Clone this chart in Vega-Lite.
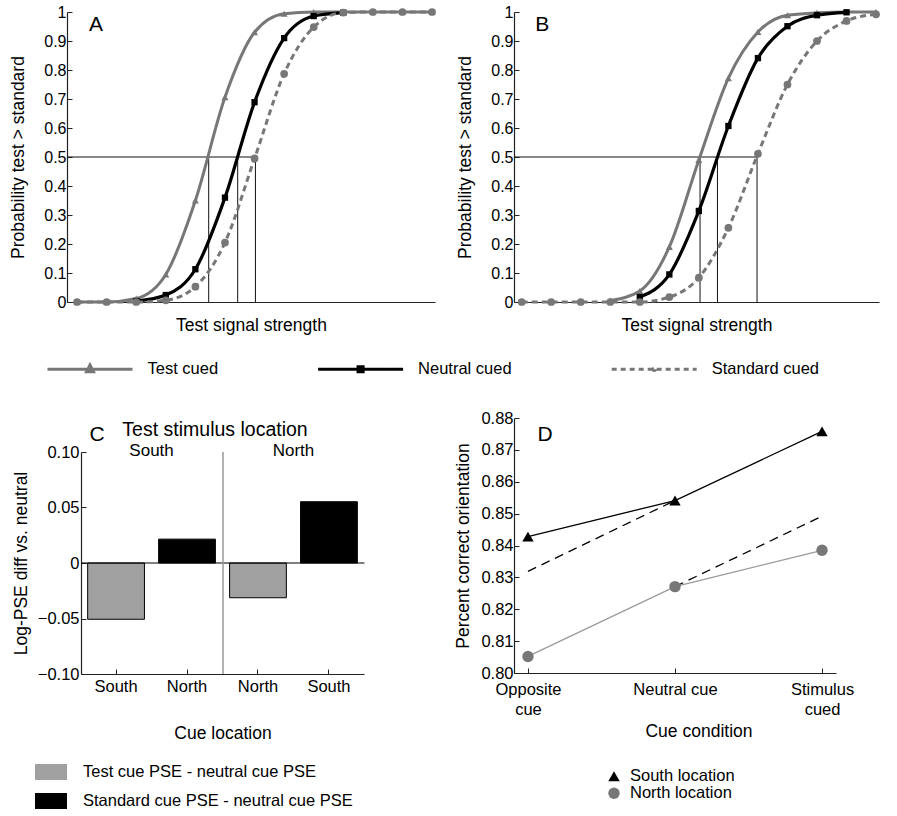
{
  "$schema": "https://vega.github.io/schema/vega-lite/v6.json",
  "padding": {"left": 9, "top": 4, "right": 5, "bottom": 0},
  "config": {
    "view": {"stroke": null},
    "font": "Liberation Sans",
    "axis": {"grid": false, "domainColor": "#222", "domainWidth": 1.2, "tickColor": "#222", "tickWidth": 1, "labelColor": "#000", "labelFontSize": 16, "titleColor": "#000", "titleFontSize": 17.5, "titleFontWeight": "normal", "labelFont": "Liberation Sans", "titleFont": "Liberation Sans", "labelOverlap": false},
    "legend": {"labelColor": "#000", "labelFontSize": 16.5, "labelFont": "Liberation Sans", "labelLimit": 400},
    "text": {"font": "Liberation Sans", "color": "#000"}
  },
  "columns": 2,
  "align": "each",
  "bounds": "flush",
  "spacing": {"row": 116, "column": 79},
  "resolve": {"scale": {"color": "independent", "shape": "independent", "strokeDash": "independent"}, "legend": {"color": "independent", "shape": "independent", "strokeDash": "independent"}},
  "concat": [
    {
      "width": 368, "height": 290,
      "data": {"values": [
        {"series": "Test cued", "i": 0, "p": 0}, {"series": "Test cued", "i": 1, "p": 0}, {"series": "Test cued", "i": 2, "p": 0.012}, {"series": "Test cued", "i": 3, "p": 0.095}, {"series": "Test cued", "i": 4, "p": 0.35}, {"series": "Test cued", "i": 5, "p": 0.706}, {"series": "Test cued", "i": 6, "p": 0.93}, {"series": "Test cued", "i": 7, "p": 0.994}, {"series": "Test cued", "i": 8, "p": 1}, {"series": "Test cued", "i": 9, "p": 1}, {"series": "Test cued", "i": 10, "p": 1}, {"series": "Test cued", "i": 11, "p": 1}, {"series": "Test cued", "i": 12, "p": 1},
        {"series": "Neutral cued", "i": 2, "p": 0.003}, {"series": "Neutral cued", "i": 3, "p": 0.024}, {"series": "Neutral cued", "i": 4, "p": 0.113}, {"series": "Neutral cued", "i": 5, "p": 0.36}, {"series": "Neutral cued", "i": 6, "p": 0.689}, {"series": "Neutral cued", "i": 7, "p": 0.91}, {"series": "Neutral cued", "i": 8, "p": 0.986}, {"series": "Neutral cued", "i": 9, "p": 0.998},
        {"series": "Standard cued", "i": 0, "p": 0}, {"series": "Standard cued", "i": 1, "p": 0}, {"series": "Standard cued", "i": 2, "p": 0}, {"series": "Standard cued", "i": 3, "p": 0.006}, {"series": "Standard cued", "i": 4, "p": 0.053}, {"series": "Standard cued", "i": 5, "p": 0.205}, {"series": "Standard cued", "i": 6, "p": 0.495}, {"series": "Standard cued", "i": 7, "p": 0.787}, {"series": "Standard cued", "i": 8, "p": 0.948}, {"series": "Standard cued", "i": 9, "p": 0.998}, {"series": "Standard cued", "i": 10, "p": 1}, {"series": "Standard cued", "i": 11, "p": 1}, {"series": "Standard cued", "i": 12, "p": 1}
      ]},
      "layer": [
        {"data": {"values": [{"series": "Test cued", "i": 4.45, "lo": 0, "hi": 0.5}, {"series": "Neutral cued", "i": 5.43, "lo": 0, "hi": 0.5}, {"series": "Standard cued", "i": 6.03, "lo": 0, "hi": 0.5}]},
         "mark": {"type": "rule", "color": "#111111", "strokeWidth": 1},
         "encoding": {
           "x": {"field": "i", "type": "quantitative", "scale": {"domain": [-0.34, 12.1], "nice": false, "zero": false}, "axis": {"title": "Test signal strength", "labels": false, "ticks": false, "titlePadding": 14}},
           "y": {"field": "lo", "type": "quantitative", "scale": {"domain": [0, 1], "nice": false}, "axis": {"title": "Probability test > standard", "tickCount": 10, "format": "~g", "labelOverlap": false, "tickSize": -5, "labelPadding": 6, "titlePadding": 16}},
           "y2": {"field": "hi"}
         }},
        {"data": {"values": [{"x0": -0.34, "x1": 6.03, "p": 0.5}]},
         "mark": {"type": "rule", "color": "#111111", "strokeWidth": 1},
         "encoding": {"x": {"field": "x0", "type": "quantitative"}, "x2": {"field": "x1"}, "y": {"field": "p", "type": "quantitative"}}},
        {"transform": [{"filter": "datum.series == 'Test cued'"}],
         "mark": {"type": "line", "interpolate": "monotone", "strokeWidth": 3, "color": "#777777"},
         "encoding": {"x": {"field": "i", "type": "quantitative"}, "y": {"field": "p", "type": "quantitative"}}},
        {"transform": [{"filter": "datum.series == 'Neutral cued'"}],
         "mark": {"type": "line", "interpolate": "monotone", "strokeWidth": 3.2, "color": "#000000"},
         "encoding": {"x": {"field": "i", "type": "quantitative"}, "y": {"field": "p", "type": "quantitative"}}},
        {"transform": [{"filter": "datum.series == 'Standard cued'"}],
         "mark": {"type": "line", "interpolate": "monotone", "strokeWidth": 3, "color": "#777777", "strokeDash": [6, 4]},
         "encoding": {"x": {"field": "i", "type": "quantitative"}, "y": {"field": "p", "type": "quantitative"}}},
        {"transform": [{"filter": "datum.series == 'Test cued'"}],
         "mark": {"type": "point", "filled": true, "shape": "triangle-up", "size": 50, "color": "#777777", "opacity": 1},
         "encoding": {"x": {"field": "i", "type": "quantitative"}, "y": {"field": "p", "type": "quantitative"}}},
        {"transform": [{"filter": "datum.series == 'Neutral cued'"}],
         "mark": {"type": "point", "filled": true, "shape": "square", "size": 40, "color": "#000000", "opacity": 1},
         "encoding": {"x": {"field": "i", "type": "quantitative"}, "y": {"field": "p", "type": "quantitative"}}},
        {"transform": [{"filter": "datum.series == 'Standard cued'"}],
         "mark": {"type": "point", "filled": true, "shape": "circle", "size": 60, "color": "#777777", "opacity": 1},
         "encoding": {"x": {"field": "i", "type": "quantitative"}, "y": {"field": "p", "type": "quantitative"}}},
        {"data": {"values": [{"label": "A", "i": 0.642, "p": 0.9355}]},
         "mark": {"type": "text", "fontSize": 21, "baseline": "alphabetic", "align": "center"},
         "encoding": {"x": {"field": "i", "type": "quantitative"}, "y": {"field": "p", "type": "quantitative"}, "text": {"field": "label", "type": "nominal"}}},
        {"data": {"values": [{"series": "Test cued"}, {"series": "Neutral cued"}, {"series": "Standard cued"}]},
         "mark": {"type": "point", "opacity": 0, "filled": false},
         "encoding": {
           "color": {"field": "series", "type": "nominal", "scale": {"domain": ["Test cued", "Neutral cued", "Standard cued"], "range": ["#777777", "#000000", "#777777"]},
             "legend": {"orient": "none", "legendX": -21, "legendY": 313, "direction": "horizontal", "columns": 3, "title": null, "symbolSize": 7225, "symbolStrokeWidth": 3, "symbolOpacity": 1, "labelOffset": 13.5, "columnPadding": 92.6, "labelFontSize": 16.5}},
           "shape": {"field": "series", "type": "nominal", "scale": {"domain": ["Test cued", "Neutral cued", "Standard cued"], "range": [
             "M-1,0H1M-0.082,0.06L0,-0.1L0.082,0.06Z",
             "M-1,0H1M-0.06,-0.06H0.06V0.06H-0.06Z",
             "M0.03,0A0.03,0.03,0,1,1,-0.03,0A0.03,0.03,0,1,1,0.03,0M-1,0H1"
           ]}},
           "strokeDash": {"field": "series", "type": "nominal", "scale": {"domain": ["Test cued", "Neutral cued", "Standard cued"], "range": [[1, 0], [1, 0], [5, 4]]}}
         }}
      ]
    },
    {
      "width": 365, "height": 290,
      "data": {"values": [
        {"series": "Test cued", "i": 3, "p": 0.005}, {"series": "Test cued", "i": 4, "p": 0.038}, {"series": "Test cued", "i": 5, "p": 0.19}, {"series": "Test cued", "i": 6, "p": 0.49}, {"series": "Test cued", "i": 7, "p": 0.772}, {"series": "Test cued", "i": 8, "p": 0.931}, {"series": "Test cued", "i": 9, "p": 0.989}, {"series": "Test cued", "i": 10, "p": 0.997}, {"series": "Test cued", "i": 11, "p": 1}, {"series": "Test cued", "i": 12, "p": 1},
        {"series": "Neutral cued", "i": 4, "p": 0.017}, {"series": "Neutral cued", "i": 5, "p": 0.095}, {"series": "Neutral cued", "i": 6, "p": 0.314}, {"series": "Neutral cued", "i": 7, "p": 0.607}, {"series": "Neutral cued", "i": 8, "p": 0.841}, {"series": "Neutral cued", "i": 9, "p": 0.951}, {"series": "Neutral cued", "i": 10, "p": 0.989}, {"series": "Neutral cued", "i": 11, "p": 0.999},
        {"series": "Standard cued", "i": 0, "p": 0}, {"series": "Standard cued", "i": 1, "p": 0}, {"series": "Standard cued", "i": 2, "p": 0}, {"series": "Standard cued", "i": 3, "p": 0}, {"series": "Standard cued", "i": 4, "p": 0}, {"series": "Standard cued", "i": 5, "p": 0.017}, {"series": "Standard cued", "i": 6, "p": 0.084}, {"series": "Standard cued", "i": 7, "p": 0.256}, {"series": "Standard cued", "i": 8, "p": 0.511}, {"series": "Standard cued", "i": 9, "p": 0.75}, {"series": "Standard cued", "i": 10, "p": 0.9}, {"series": "Standard cued", "i": 11, "p": 0.969}, {"series": "Standard cued", "i": 12, "p": 0.992}
      ]},
      "layer": [
        {"data": {"values": [{"series": "Test cued", "i": 6.04, "lo": 0, "hi": 0.5}, {"series": "Neutral cued", "i": 6.63, "lo": 0, "hi": 0.5}, {"series": "Standard cued", "i": 7.97, "lo": 0, "hi": 0.5}]},
         "mark": {"type": "rule", "color": "#111111", "strokeWidth": 1},
         "encoding": {
           "x": {"field": "i", "type": "quantitative", "scale": {"domain": [-0.26, 12.1], "nice": false, "zero": false}, "axis": {"title": "Test signal strength", "labels": false, "ticks": false, "titlePadding": 14}},
           "y": {"field": "lo", "type": "quantitative", "scale": {"domain": [0, 1], "nice": false}, "axis": {"title": "Probability test > standard", "tickCount": 10, "format": "~g", "labelOverlap": false, "tickSize": -5, "labelPadding": 6, "titlePadding": 16}},
           "y2": {"field": "hi"}
         }},
        {"data": {"values": [{"x0": -0.26, "x1": 7.97, "p": 0.5}]},
         "mark": {"type": "rule", "color": "#111111", "strokeWidth": 1},
         "encoding": {"x": {"field": "x0", "type": "quantitative"}, "x2": {"field": "x1"}, "y": {"field": "p", "type": "quantitative"}}},
        {"transform": [{"filter": "datum.series == 'Test cued'"}],
         "mark": {"type": "line", "interpolate": "monotone", "strokeWidth": 3, "color": "#777777"},
         "encoding": {"x": {"field": "i", "type": "quantitative"}, "y": {"field": "p", "type": "quantitative"}}},
        {"transform": [{"filter": "datum.series == 'Neutral cued'"}],
         "mark": {"type": "line", "interpolate": "monotone", "strokeWidth": 3.2, "color": "#000000"},
         "encoding": {"x": {"field": "i", "type": "quantitative"}, "y": {"field": "p", "type": "quantitative"}}},
        {"transform": [{"filter": "datum.series == 'Standard cued'"}],
         "mark": {"type": "line", "interpolate": "monotone", "strokeWidth": 3, "color": "#777777", "strokeDash": [6, 4]},
         "encoding": {"x": {"field": "i", "type": "quantitative"}, "y": {"field": "p", "type": "quantitative"}}},
        {"transform": [{"filter": "datum.series == 'Test cued'"}],
         "mark": {"type": "point", "filled": true, "shape": "triangle-up", "size": 50, "color": "#777777", "opacity": 1},
         "encoding": {"x": {"field": "i", "type": "quantitative"}, "y": {"field": "p", "type": "quantitative"}}},
        {"transform": [{"filter": "datum.series == 'Neutral cued'"}],
         "mark": {"type": "point", "filled": true, "shape": "square", "size": 40, "color": "#000000", "opacity": 1},
         "encoding": {"x": {"field": "i", "type": "quantitative"}, "y": {"field": "p", "type": "quantitative"}}},
        {"transform": [{"filter": "datum.series == 'Standard cued'"}],
         "mark": {"type": "point", "filled": true, "shape": "circle", "size": 60, "color": "#777777", "opacity": 1},
         "encoding": {"x": {"field": "i", "type": "quantitative"}, "y": {"field": "p", "type": "quantitative"}}},
        {"data": {"values": [{"label": "B", "i": 0.7, "p": 0.9355}]},
         "mark": {"type": "text", "fontSize": 21, "baseline": "alphabetic", "align": "center"},
         "encoding": {"x": {"field": "i", "type": "quantitative"}, "y": {"field": "p", "type": "quantitative"}, "text": {"field": "label", "type": "nominal"}}}
      ]
    },
    {
      "width": 297, "height": 256,
      "layer": [
        {"data": {"values": [
            {"cue": "S1", "type": "Test cue PSE - neutral cue PSE", "diff": -0.0507},
            {"cue": "N1", "type": "Standard cue PSE - neutral cue PSE", "diff": 0.0215},
            {"cue": "N2", "type": "Test cue PSE - neutral cue PSE", "diff": -0.0313},
            {"cue": "S2", "type": "Standard cue PSE - neutral cue PSE", "diff": 0.0552}
          ]},
         "mark": {"type": "bar", "stroke": "#000", "strokeWidth": 1},
         "encoding": {
           "x": {"field": "cue", "type": "nominal", "scale": {"domain": ["S1", "N1", "N2", "S2"], "range": [14, 297], "paddingInner": 0.2, "paddingOuter": 0.094},
             "axis": {"title": "Cue location", "labelExpr": "(datum.value == 'S1' || datum.value == 'S2') ? 'South' : 'North'", "labelAngle": 0, "labelFontSize": 16.5, "tickSize": -5, "labelPadding": 9, "titlePadding": 30}},
           "y": {"field": "diff", "type": "quantitative", "scale": {"domain": [-0.1, 0.1], "range": [256, 34], "nice": false, "zero": false},
             "axis": {"title": "Log-PSE diff vs. neutral", "offset": -14, "tickCount": 4, "labelOverlap": false, "labelExpr": "datum.value == 0 ? '0' : format(datum.value, '.2f')", "tickSize": -5, "labelPadding": 7, "titlePadding": 7, "labelFontSize": 16.5}},
           "color": {"field": "type", "type": "nominal", "scale": {"domain": ["Test cue PSE - neutral cue PSE", "Standard cue PSE - neutral cue PSE"], "range": ["#a0a0a0", "#000000"]},
             "legend": {"orient": "none", "legendX": -32, "legendY": 338, "title": null, "direction": "vertical", "symbolType": "M-1,-0.5H1V0.5H-1Z", "symbolSize": 1024, "symbolStrokeWidth": 0, "labelOffset": 16, "rowPadding": 4, "labelFontSize": 16.5}}
         }},
        {"data": {"values": [{"a": "S1", "b": "S2", "zero": 0}]},
         "mark": {"type": "rule", "color": "#000000", "strokeWidth": 1.2, "xOffset": -35, "x2Offset": 35.5},
         "encoding": {"x": {"field": "a", "type": "nominal"}, "x2": {"field": "b"}, "y": {"field": "zero", "type": "quantitative"}}},
        {"data": {"values": [{"cue": "N2", "lo": -0.1, "hi": 0.1}]},
         "mark": {"type": "rule", "color": "#999999", "strokeWidth": 1.5, "xOffset": -35},
         "encoding": {"x": {"field": "cue", "type": "nominal"}, "y": {"field": "lo", "type": "quantitative"}, "y2": {"field": "hi"}}},
        {"data": {"values": [{"cue": "S1", "yv": 0.0967, "label": "South"}, {"cue": "N2", "yv": 0.0967, "label": "North"}]},
         "mark": {"type": "text", "fontSize": 17, "baseline": "alphabetic", "align": "center", "dx": 35.5},
         "encoding": {"x": {"field": "cue", "type": "nominal"}, "y": {"field": "yv", "type": "quantitative"}, "text": {"field": "label", "type": "nominal"}}},
        {"data": {"values": [{"cue": "N1", "yv": 0.1147, "label": "Test stimulus location"}]},
         "mark": {"type": "text", "fontSize": 19.5, "baseline": "alphabetic", "align": "center", "dx": 28},
         "encoding": {"x": {"field": "cue", "type": "nominal"}, "y": {"field": "yv", "type": "quantitative"}, "text": {"field": "label", "type": "nominal"}}},
        {"data": {"values": [{"cue": "S1", "yv": 0.1102, "label": "C"}]},
         "mark": {"type": "text", "fontSize": 21, "baseline": "alphabetic", "align": "center", "dx": -19},
         "encoding": {"x": {"field": "cue", "type": "nominal"}, "y": {"field": "yv", "type": "quantitative"}, "text": {"field": "label", "type": "nominal"}}}
      ]
    },
    {
      "width": 322, "height": 255,
      "data": {"values": [
        {"location": "South location", "cond": "Opposite cue", "value": 0.8428},
        {"location": "South location", "cond": "Neutral cue", "value": 0.8541},
        {"location": "South location", "cond": "Stimulus cued", "value": 0.8758},
        {"location": "North location", "cond": "Opposite cue", "value": 0.8052},
        {"location": "North location", "cond": "Neutral cue", "value": 0.8271},
        {"location": "North location", "cond": "Stimulus cued", "value": 0.8385}
      ]},
      "layer": [
        {"data": {"values": [{"cond": "Opposite cue", "value": 0.8319}, {"cond": "Neutral cue", "value": 0.8541}]},
         "mark": {"type": "line", "color": "#000000", "strokeWidth": 1.3, "strokeDash": [9, 6]},
         "encoding": {
           "x": {"field": "cond", "type": "nominal", "scale": {"type": "point", "padding": 0.095, "domain": ["Opposite cue", "Neutral cue", "Stimulus cued"]},
             "axis": {"title": null, "labelAngle": 0, "labelExpr": "datum.value == 'Neutral cue' ? datum.value : split(datum.value, ' ')", "labelLineHeight": 20, "labelFontSize": 16.5, "tickSize": -5, "labelPadding": 13}},
           "y": {"field": "value", "type": "quantitative", "scale": {"domain": [0.8, 0.88], "nice": false, "zero": false},
             "axis": {"title": "Percent correct orientation", "tickCount": 8, "format": ".2f", "labelOverlap": false, "tickSize": -5, "labelPadding": 6, "titlePadding": 8, "labelFontSize": 16.5}}
         }},
        {"data": {"values": [{"cond": "Neutral cue", "value": 0.8271}, {"cond": "Stimulus cued", "value": 0.8492}]},
         "mark": {"type": "line", "color": "#000000", "strokeWidth": 1.3, "strokeDash": [9, 6]},
         "encoding": {"x": {"field": "cond", "type": "nominal"}, "y": {"field": "value", "type": "quantitative"}}},
        {"transform": [{"filter": "datum.location == 'South location'"}],
         "mark": {"type": "line", "color": "#000000", "strokeWidth": 1.3},
         "encoding": {"x": {"field": "cond", "type": "nominal"}, "y": {"field": "value", "type": "quantitative"}}},
        {"transform": [{"filter": "datum.location == 'North location'"}],
         "mark": {"type": "line", "color": "#9a9a9a", "strokeWidth": 1.3},
         "encoding": {"x": {"field": "cond", "type": "nominal"}, "y": {"field": "value", "type": "quantitative"}}},
        {"mark": {"type": "point", "filled": true, "size": 130, "opacity": 1},
         "encoding": {
           "x": {"field": "cond", "type": "nominal"},
           "y": {"field": "value", "type": "quantitative"},
           "color": {"field": "location", "type": "nominal", "scale": {"domain": ["South location", "North location"], "range": ["#000000", "#777777"]},
             "legend": {"orient": "none", "legendX": 91.75, "legendY": 350, "title": null, "direction": "vertical", "labelOffset": 7.75, "rowPadding": -1.5, "symbolSize": 130, "symbolStrokeWidth": 0, "labelFontSize": 16.5}},
           "shape": {"field": "location", "type": "nominal", "scale": {"domain": ["South location", "North location"], "range": ["triangle-up", "circle"]}}
         }},
        {"data": {"values": [{"label": "D", "cond": "Opposite cue", "value": 0.8727}]},
         "mark": {"type": "text", "fontSize": 21, "baseline": "alphabetic", "align": "center", "dx": 17},
         "encoding": {"x": {"field": "cond", "type": "nominal"}, "y": {"field": "value", "type": "quantitative"}, "text": {"field": "label", "type": "nominal"}}},
        {"data": {"values": [{"label": "Cue condition", "cond": "Neutral cue", "value": 0.7799}]},
         "mark": {"type": "text", "fontSize": 17.5, "baseline": "alphabetic", "align": "center", "dx": 24},
         "encoding": {"x": {"field": "cond", "type": "nominal"}, "y": {"field": "value", "type": "quantitative"}, "text": {"field": "label", "type": "nominal"}}}
      ]
    }
  ]
}
